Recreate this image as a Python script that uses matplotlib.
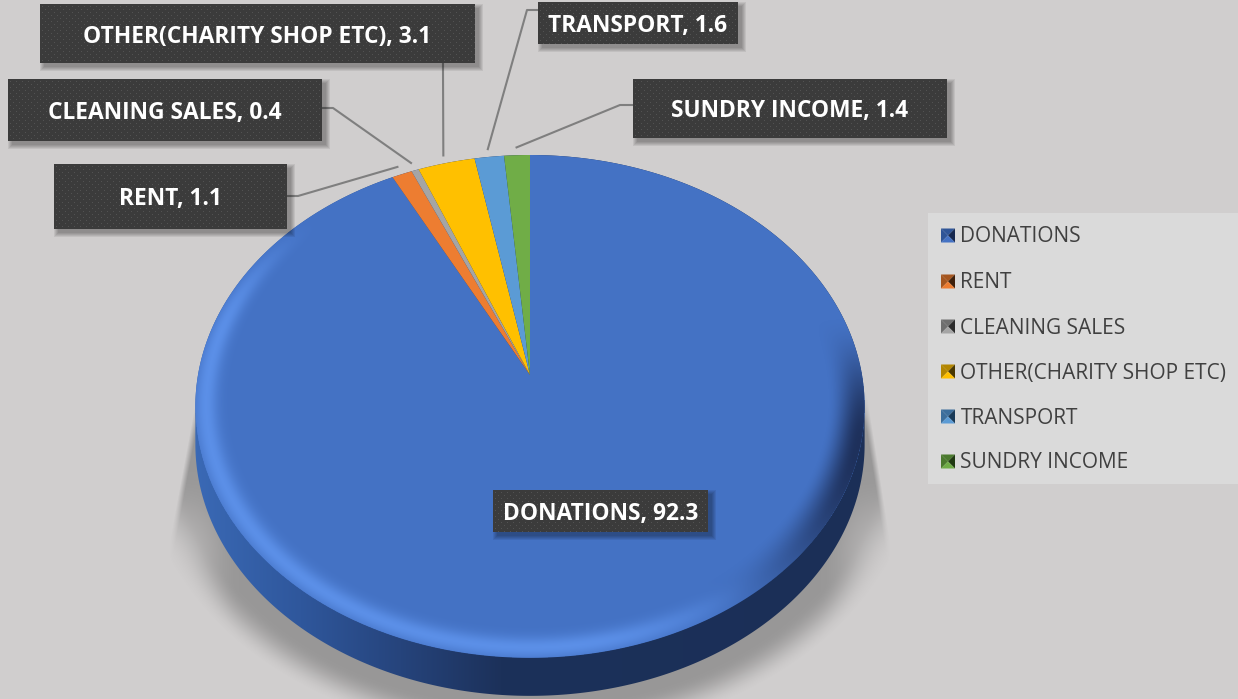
from __future__ import annotations

import matplotlib
matplotlib.use("Agg")
import matplotlib.pyplot as plt
import numpy as np
from matplotlib.patches import Polygon, Rectangle

WIDTH = 1238
HEIGHT = 699

categories = ["DONATIONS", "RENT", "CLEANING SALES", "OTHER(CHARITY SHOP ETC)", "TRANSPORT", "SUNDRY INCOME"]
values = [92.3, 1.1, 0.4, 3.1, 1.6, 1.4]
colors = ["#4472c4", "#ed7d31", "#a5a5a5", "#ffc000", "#5b9bd5", "#70ad47"]
marker_dark = ["#2f5597", "#a5561f", "#6f6f6f", "#b38600", "#3c6e9c", "#4b7a2e"]
marker_shade = ["#16284f", "#3f200b", "#2c2c2c", "#4a3800", "#193a57", "#203a12"]

# label boxes in pixels: left, top, right, bottom
label_boxes = [
    (493, 490, 708, 532),
    (54, 164, 287, 229),
    (8, 79, 322, 141),
    (40, 4, 475, 63),
    (538, 2, 738, 44),
    (633, 79, 947, 138),
]
# leader line start and elbow, None for the label sitting on its slice
leader_starts = [
    None,
    [(287, 196), (298, 196)],
    [(322, 108), (333, 108)],
    [(443, 63), (443, 70)],
    [(538, 10), (527, 10)],
    [(633, 105), (620, 105)],
]
legend_rows = [235.5, 281.5, 326.5, 371.5, 416.5, 461.5]

BG = "#d0cece"
CX, CY = 530.0, 375.0
AX_X, AX_Y, TILT = 332.0, 247.5, 0.125
DEPTH = 38.0


def project(u, v):
    w = 1 + TILT * v
    return CX + AX_X * u / w, CY - AX_Y * v / w


def unproject(x, y):
    xn = (x - CX) / AX_X
    yn = (CY - y) / AX_Y
    v = yn / (1 - TILT * yn)
    u = xn * (1 + TILT * v)
    return u, v


def wedge_points(start, end):
    # angles run clockwise from the top of the pie
    t = np.linspace(start, end, max(int((end - start) * 2), 3))
    xs, ys = project(np.sin(t * np.pi / 180), np.cos(t * np.pi / 180))
    return np.r_[CX, xs], np.r_[CY, ys]


def smooth(a):
    a = np.clip(a, 0, 1)
    return a * a * (3 - 2 * a)


def draw_shadow(ax, xx, yy):
    rho = np.sqrt(((xx - CX) / 345) ** 2 + ((yy - 440) / 262) ** 2)
    alpha = 0.42 * smooth((1.15 - rho) / 0.13)
    left = 196 - (yy - 400) * 26 / 140
    right = 868 + (yy - 400) * 22 / 140
    alpha *= np.clip((xx - left) / 6, 0, 1) * np.clip((right - xx) / 6, 0, 1)
    alpha *= smooth((yy - 385) / 50)
    # the flat side flares fade out towards the bottom corners
    alpha *= 1 - 0.6 * smooth((yy - 470) / 90) * smooth((np.abs(xx - CX) - 290) / 60)
    rgba = np.zeros(xx.shape + (4,))
    rgba[..., :3] = 0.3
    rgba[..., 3] = alpha
    ax.imshow(rgba, extent=(0, WIDTH, HEIGHT, 0), zorder=1, aspect="auto", interpolation="bilinear")


def draw_side(ax):
    t = np.linspace(0, 2 * np.pi, 720, endpoint=False)
    xs, ys = project(np.sin(t), np.cos(t))
    upper = np.where(ys < 406)[0]
    lower = np.where(ys >= 406)[0]
    top_arc = np.c_[xs[upper], ys[upper]]
    low_arc = np.c_[xs[lower], ys[lower] + DEPTH]
    top_arc = top_arc[np.argsort(top_arc[:, 0])]
    low_arc = low_arc[np.argsort(-low_arc[:, 0])]
    outline = np.vstack([top_arc, low_arc])

    stops_x = [196, 300, 400, 500, 865]
    stops = np.array([[0x3a, 0x69, 0xb5], [0x2f, 0x57, 0x9c], [0x26, 0x44, 0x7c], [0x1c, 0x31, 0x5a], [0x1b, 0x2f, 0x57]]) / 255
    grid = np.arange(WIDTH)
    band = np.stack([np.interp(grid, stops_x, stops[:, i]) for i in range(3)], axis=-1)[None, ...]
    image = ax.imshow(band, extent=(0, WIDTH, HEIGHT, 0), zorder=2, aspect="auto")
    clip = Polygon(outline, closed=True, transform=ax.transData, facecolor="none", edgecolor="none")
    ax.add_patch(clip)
    image.set_clip_path(clip)


def draw_bevel(ax, xx, yy):
    u, v = unproject(xx, yy)
    r = np.sqrt(u ** 2 + v ** 2)
    safe = np.maximum(r, 1e-6)
    facing = (-0.72 * u - 0.69 * v) / safe

    light = smooth(facing / 0.6) * np.exp(-(((r - 0.968) / 0.034) ** 2)) * 0.6
    dark = smooth((0.3 - facing) / 0.8) * smooth((v * -1 + 0.25) / 0.5) * smooth((r - 0.89) / 0.10) * 0.95
    rgba = np.zeros(xx.shape + (4,))
    mix = light / np.maximum(light + dark, 1e-6)
    rgba[..., 0] = 0.11 + (0.42 - 0.11) * mix
    rgba[..., 1] = 0.18 + (0.64 - 0.18) * mix
    rgba[..., 2] = 0.34 + (1.0 - 0.34) * mix
    rgba[..., 3] = np.clip(light + dark, 0, 1) * (r < 1.0)

    image = ax.imshow(rgba, extent=(0, WIDTH, HEIGHT, 0), zorder=4, aspect="auto", interpolation="bilinear")
    t = np.linspace(0, 2 * np.pi, 720)
    xs, ys = project(np.sin(t), np.cos(t))
    clip = Polygon(np.c_[xs, ys], closed=True, transform=ax.transData, facecolor="none", edgecolor="none")
    ax.add_patch(clip)
    image.set_clip_path(clip)


def draw_label_box(ax, box, text, zorder):
    left, top, right, bottom = box
    for grow in range(5, 0, -1):
        ax.add_patch(Rectangle((left + 5 - grow, top + 5 - grow), right - left + 2 * grow - 2, bottom - top + 2 * grow - 2,
                               facecolor="black", edgecolor="none", alpha=0.07, zorder=zorder))
    h, w = bottom - top, right - left
    tile = np.full((h, w, 3), 0x3b / 255)
    rows, cols = np.indices((h, w))
    dots = ((rows % 6 == 2) & (cols % 6 == 2)) | ((rows % 6 == 5) & (cols % 6 == 5))
    tile[dots] = 0x52 / 255
    ax.imshow(tile, extent=(left, right, bottom, top), zorder=zorder + 0.1, aspect="auto", interpolation="bilinear")
    ax.text((left + right) / 2, (top + bottom) / 2 + 3, text, color="white", fontsize=16.4, fontweight="bold",
            family="Open Sans", ha="center", va="center", zorder=zorder + 0.2)


def draw_legend(ax):
    ax.add_patch(Rectangle((928, 213), 310, 271, facecolor="#dadada", edgecolor="none", zorder=3))
    for name, y, color, dark, shade in zip(categories, legend_rows, colors, marker_dark, marker_shade):
        x0, x1 = 941, 955
        y0, y1 = y - 7, y + 7
        xm, ym = (x0 + x1) / 2, y
        ax.fill([x0, x1, xm], [y0, y0, ym], color=dark, lw=0, zorder=4)
        ax.fill([x0, xm, x0], [y0, ym, y1], color=dark, lw=0, zorder=4)
        ax.fill([x1, xm, x1], [y0, ym, y1], color=shade, lw=0, zorder=4)
        ax.fill([x0, x1, xm], [y1, y1, ym], color=color, lw=0, zorder=4)
        ax.text(960.5, y + 1.5, name, color="#404040", fontsize=15, family="Open Sans", ha="left", va="center", zorder=4)


def main() -> None:
    fig = plt.figure(figsize=(WIDTH / 100, HEIGHT / 100), dpi=100, facecolor=BG)
    ax = fig.add_axes([0, 0, 1, 1])
    ax.set_facecolor(BG)

    xx, yy = np.meshgrid(np.arange(WIDTH) + 0.5, np.arange(HEIGHT) + 0.5)
    draw_shadow(ax, xx, yy)
    draw_side(ax)

    shares = np.array(values) / sum(values) * 360
    ends = np.cumsum(shares)
    starts = ends - shares
    for start, end, color in zip(starts, ends, colors):
        xs, ys = wedge_points(start, end)
        ax.fill(xs, ys, color=color, lw=0, zorder=3)
    draw_bevel(ax, xx, yy)

    for i, name in enumerate(categories):
        if leader_starts[i] is not None:
            mid = (starts[i] + ends[i]) / 2 * np.pi / 180
            tip = project(1.04 * np.sin(mid), 1.04 * np.cos(mid))
            line = np.array(leader_starts[i] + [tip])
            ax.plot(line[:, 0], line[:, 1], color="#7f7f7f", lw=1.5, zorder=5)
        draw_label_box(ax, label_boxes[i], f"{name}, {values[i]}", 6)

    draw_legend(ax)

    ax.set_xlim(0, WIDTH)
    ax.set_ylim(HEIGHT, 0)
    ax.axis("off")
    fig.savefig("out.png", dpi=100, facecolor=BG)
    plt.close(fig)


if __name__ == "__main__":
    main()
